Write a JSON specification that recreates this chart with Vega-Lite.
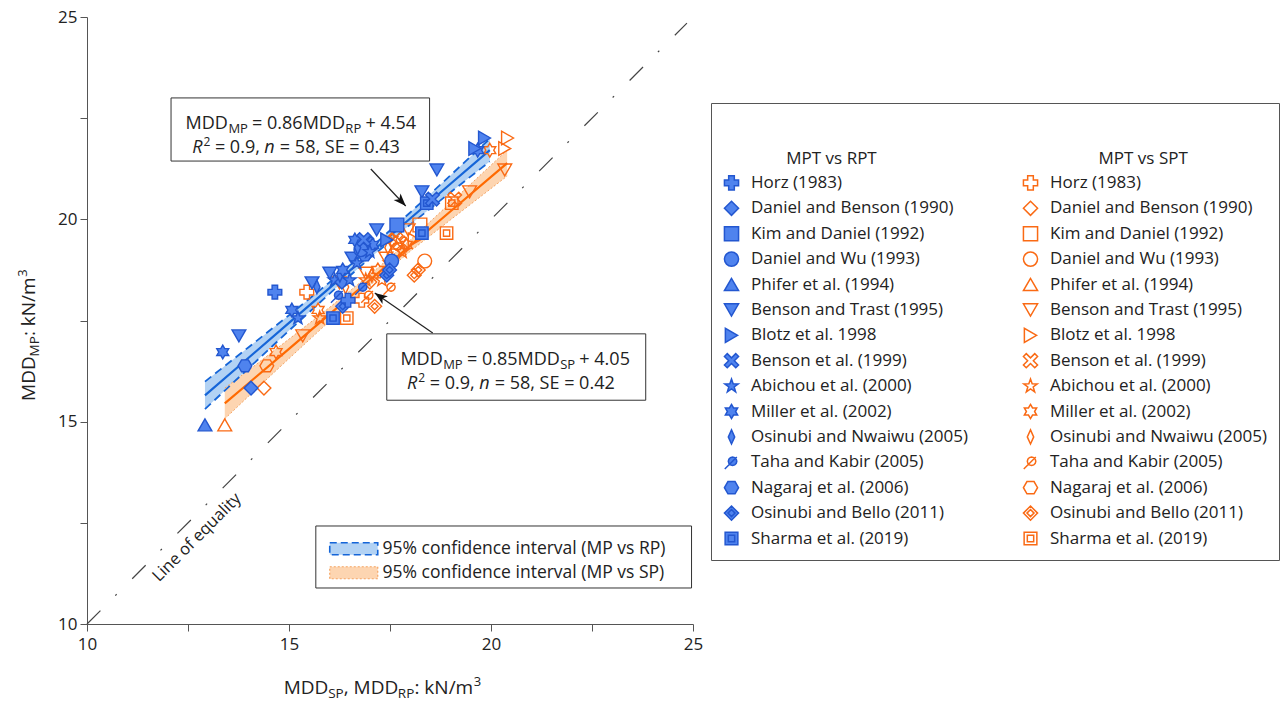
{
 "$schema": "https://vega.github.io/schema/vega-lite/v6.json",
 "width": 606,
 "height": 607,
 "autosize": {"type": "none"},
 "padding": {"left": 87, "top": 17, "right": 592, "bottom": 77},
 "background": "white",
 "config": {"view": {"stroke": null}, "font": "Open Sans"},
 "datasets": {
  "pts": [
   {"k":"SPT: Phifer et al. (1994)","x":13.41,"y":14.92},
   {"k":"SPT: Daniel and Benson (1990)","x":14.38,"y":15.83},
   {"k":"SPT: Nagaraj et al. (2006)","x":14.45,"y":16.38},
   {"k":"SPT: Miller et al. (2002)","x":14.68,"y":16.72},
   {"k":"SPT: Benson and Trast (1995)","x":15.34,"y":17.12},
   {"k":"SPT: Horz (1983)","x":15.44,"y":18.2},
   {"k":"SPT: Abichou et al. (2000)","x":15.76,"y":17.56},
   {"k":"SPT: Miller et al. (2002)","x":15.72,"y":17.76},
   {"k":"SPT: Benson and Trast (1995)","x":16.25,"y":18.43},
   {"k":"SPT: Osinubi and Nwaiwu (2005)","x":16.4,"y":18.33},
   {"k":"SPT: Osinubi and Bello (2011)","x":17.12,"y":17.85},
   {"k":"SPT: Sharma et al. (2019)","x":16.43,"y":17.56},
   {"k":"SPT: Horz (1983)","x":16.8,"y":18.0},
   {"k":"SPT: Taha and Kabir (2005)","x":17.5,"y":18.3},
   {"k":"SPT: Abichou et al. (2000)","x":16.9,"y":18.5},
   {"k":"SPT: Daniel and Benson (1990)","x":17.0,"y":18.45},
   {"k":"SPT: Abichou et al. (2000)","x":17.3,"y":18.5},
   {"k":"SPT: Benson and Trast (1995)","x":16.9,"y":18.67},
   {"k":"SPT: Osinubi and Nwaiwu (2005)","x":17.05,"y":18.62},
   {"k":"SPT: Miller et al. (2002)","x":17.2,"y":18.75},
   {"k":"SPT: Benson and Trast (1995)","x":17.4,"y":19.04},
   {"k":"SPT: Abichou et al. (2000)","x":17.5,"y":18.92},
   {"k":"SPT: Nagaraj et al. (2006)","x":17.6,"y":19.12},
   {"k":"SPT: Miller et al. (2002)","x":17.55,"y":19.49},
   {"k":"SPT: Benson et al. (1999)","x":17.75,"y":19.41},
   {"k":"SPT: Miller et al. (2002)","x":17.9,"y":19.37},
   {"k":"SPT: Benson and Trast (1995)","x":17.95,"y":19.74},
   {"k":"SPT: Blotz et al. 1998","x":18.1,"y":19.49},
   {"k":"SPT: Daniel and Wu (1993)","x":18.36,"y":18.97},
   {"k":"SPT: Osinubi and Bello (2011)","x":18.1,"y":18.62},
   {"k":"SPT: Osinubi and Bello (2011)","x":18.2,"y":18.75},
   {"k":"SPT: Kim and Daniel (1992)","x":18.24,"y":19.86},
   {"k":"SPT: Sharma et al. (2019)","x":18.9,"y":19.66},
   {"k":"SPT: Benson and Trast (1995)","x":19.47,"y":20.68},
   {"k":"SPT: Sharma et al. (2019)","x":19.03,"y":20.4},
   {"k":"SPT: Benson et al. (1999)","x":19.1,"y":20.5},
   {"k":"SPT: Benson and Trast (1995)","x":20.34,"y":21.22},
   {"k":"SPT: Miller et al. (2002)","x":19.97,"y":21.71},
   {"k":"SPT: Blotz et al. 1998","x":20.41,"y":22.01},
   {"k":"SPT: Blotz et al. 1998","x":20.34,"y":21.75},
   {"k":"SPT: Taha and Kabir (2005)","x":16.95,"y":18.1},
   {"k":"SPT: Daniel and Wu (1993)","x":17.7,"y":19.25},
   {"k":"SPT: Abichou et al. (2000)","x":17.8,"y":19.2},
   {"k":"SPT: Osinubi and Nwaiwu (2005)","x":17.45,"y":19.3},
   {"k":"SPT: Benson et al. (1999)","x":17.65,"y":19.5},
   {"k":"RPT: Phifer et al. (1994)","x":12.92,"y":14.92},
   {"k":"RPT: Daniel and Benson (1990)","x":14.06,"y":15.83},
   {"k":"RPT: Nagaraj et al. (2006)","x":13.91,"y":16.38},
   {"k":"RPT: Miller et al. (2002)","x":13.36,"y":16.72},
   {"k":"RPT: Benson and Trast (1995)","x":13.76,"y":17.12},
   {"k":"RPT: Horz (1983)","x":14.65,"y":18.2},
   {"k":"RPT: Abichou et al. (2000)","x":15.22,"y":17.56},
   {"k":"RPT: Miller et al. (2002)","x":15.07,"y":17.76},
   {"k":"RPT: Benson and Trast (1995)","x":15.57,"y":18.43},
   {"k":"RPT: Osinubi and Nwaiwu (2005)","x":15.69,"y":18.33},
   {"k":"RPT: Osinubi and Bello (2011)","x":16.33,"y":17.85},
   {"k":"RPT: Sharma et al. (2019)","x":16.09,"y":17.56},
   {"k":"RPT: Horz (1983)","x":16.46,"y":18.0},
   {"k":"RPT: Taha and Kabir (2005)","x":16.8,"y":18.3},
   {"k":"RPT: Abichou et al. (2000)","x":16.13,"y":18.5},
   {"k":"RPT: Daniel and Benson (1990)","x":16.31,"y":18.45},
   {"k":"RPT: Abichou et al. (2000)","x":16.5,"y":18.5},
   {"k":"RPT: Benson and Trast (1995)","x":16.01,"y":18.67},
   {"k":"RPT: Osinubi and Nwaiwu (2005)","x":16.26,"y":18.62},
   {"k":"RPT: Miller et al. (2002)","x":16.33,"y":18.75},
   {"k":"RPT: Benson and Trast (1995)","x":16.56,"y":19.04},
   {"k":"RPT: Abichou et al. (2000)","x":16.68,"y":18.92},
   {"k":"RPT: Nagaraj et al. (2006)","x":16.88,"y":19.12},
   {"k":"RPT: Miller et al. (2002)","x":16.63,"y":19.49},
   {"k":"RPT: Benson et al. (1999)","x":16.93,"y":19.41},
   {"k":"RPT: Miller et al. (2002)","x":17.07,"y":19.37},
   {"k":"RPT: Benson and Trast (1995)","x":17.17,"y":19.74},
   {"k":"RPT: Blotz et al. 1998","x":17.42,"y":19.49},
   {"k":"RPT: Daniel and Wu (1993)","x":17.54,"y":18.97},
   {"k":"RPT: Osinubi and Bello (2011)","x":17.42,"y":18.62},
   {"k":"RPT: Osinubi and Bello (2011)","x":17.49,"y":18.75},
   {"k":"RPT: Kim and Daniel (1992)","x":17.67,"y":19.86},
   {"k":"RPT: Sharma et al. (2019)","x":18.29,"y":19.66},
   {"k":"RPT: Benson and Trast (1995)","x":18.29,"y":20.68},
   {"k":"RPT: Sharma et al. (2019)","x":18.41,"y":20.4},
   {"k":"RPT: Benson et al. (1999)","x":18.55,"y":20.5},
   {"k":"RPT: Benson and Trast (1995)","x":18.66,"y":21.22},
   {"k":"RPT: Miller et al. (2002)","x":19.67,"y":21.71},
   {"k":"RPT: Blotz et al. 1998","x":19.84,"y":22.01},
   {"k":"RPT: Blotz et al. 1998","x":19.6,"y":21.75},
   {"k":"RPT: Taha and Kabir (2005)","x":16.2,"y":18.1},
   {"k":"RPT: Daniel and Wu (1993)","x":16.78,"y":19.25},
   {"k":"RPT: Abichou et al. (2000)","x":17.0,"y":19.2},
   {"k":"RPT: Osinubi and Nwaiwu (2005)","x":16.7,"y":19.3},
   {"k":"RPT: Benson et al. (1999)","x":16.85,"y":19.5}
  ],
  "band": [
   {"ci":"95% confidence interval (MP vs RP)","x":12.92,"f":15.65,"lo":15.31,"hi":15.99},
   {"ci":"95% confidence interval (MP vs RP)","x":14,"f":16.58,"lo":16.32,"hi":16.84},
   {"ci":"95% confidence interval (MP vs RP)","x":15,"f":17.44,"lo":17.25,"hi":17.63},
   {"ci":"95% confidence interval (MP vs RP)","x":16,"f":18.30,"lo":18.16,"hi":18.44},
   {"ci":"95% confidence interval (MP vs RP)","x":17,"f":19.16,"lo":19.04,"hi":19.28},
   {"ci":"95% confidence interval (MP vs RP)","x":18,"f":20.02,"lo":19.87,"hi":20.17},
   {"ci":"95% confidence interval (MP vs RP)","x":19,"f":20.88,"lo":20.67,"hi":21.09},
   {"ci":"95% confidence interval (MP vs RP)","x":19.97,"f":21.71,"lo":21.43,"hi":21.99},
   {"ci":"95% confidence interval (MP vs SP)","x":13.41,"f":15.45,"lo":15.07,"hi":15.83},
   {"ci":"95% confidence interval (MP vs SP)","x":14,"f":15.95,"lo":15.63,"hi":16.27},
   {"ci":"95% confidence interval (MP vs SP)","x":15,"f":16.80,"lo":16.56,"hi":17.04},
   {"ci":"95% confidence interval (MP vs SP)","x":16,"f":17.65,"lo":17.48,"hi":17.82},
   {"ci":"95% confidence interval (MP vs SP)","x":17,"f":18.50,"lo":18.37,"hi":18.63},
   {"ci":"95% confidence interval (MP vs SP)","x":18,"f":19.35,"lo":19.21,"hi":19.49},
   {"ci":"95% confidence interval (MP vs SP)","x":19,"f":20.20,"lo":19.99,"hi":20.41},
   {"ci":"95% confidence interval (MP vs SP)","x":20.4,"f":21.39,"lo":21.07,"hi":21.71}
  ],
  "eq": [{"x":10,"y":10},{"x":24.85,"y":24.85}],
  "boxes": [
   {"x":12.08,"x2":18.48,"y":21.44,"y2":23.0},
   {"x":17.42,"x2":23.83,"y":15.53,"y2":17.17},
   {"x":15.664,"x2":24.964,"y":10.89,"y2":12.422}
  ],
  "arrows": [
   {"id":1,"x":17.025,"y":21.243,"x2":17.89,"y2":20.329},
   {"id":2,"x":18.558,"y":17.19,"x2":17.123,"y2":18.179}
  ],
  "txt": [
   {"t":"MDD","x":12.441,"y":22.231,"k":"n18"},
   {"t":"MP","x":13.5,"y":22.132,"k":"s13"},
   {"t":"= 0.86MDD","x":14.086,"y":22.231,"k":"n18"},
   {"t":"RP","x":16.395,"y":22.132,"k":"s13"},
   {"t":"+ 4.54","x":16.893,"y":22.231,"k":"n18"},
   {"t":"R","x":12.604,"y":21.631,"k":"i18"},
   {"t":"2","x":12.882,"y":21.811,"k":"p12"},
   {"t":"= 0.9,","x":13.166,"y":21.631,"k":"n18"},
   {"t":"n","x":14.39,"y":21.631,"k":"i18"},
   {"t":"= 58, SE = 0.43","x":14.774,"y":21.631,"k":"n18"},
   {"t":"MDD","x":17.757,"y":16.4,"k":"n18"},
   {"t":"MP","x":18.815,"y":16.301,"k":"s13"},
   {"t":"= 0.85MDD","x":19.404,"y":16.4,"k":"n18"},
   {"t":"SP","x":21.713,"y":16.301,"k":"s13"},
   {"t":"+ 4.05","x":22.187,"y":16.4,"k":"n18"},
   {"t":"R","x":17.922,"y":15.8,"k":"i18"},
   {"t":"2","x":18.199,"y":15.98,"k":"p12"},
   {"t":"= 0.9,","x":18.484,"y":15.8,"k":"n18"},
   {"t":"n","x":19.708,"y":15.8,"k":"i18"},
   {"t":"= 58, SE = 0.42","x":20.092,"y":15.8,"k":"n18"},
   {"t":"MDD","x":14.87,"y":8.27,"k":"n19"},
   {"t":"SP","x":15.97,"y":8.171,"k":"s14"},
   {"t":", MDD","x":16.354,"y":8.27,"k":"n19"},
   {"t":"RP","x":17.694,"y":8.171,"k":"s14"},
   {"t":": kN/m","x":18.105,"y":8.27,"k":"n19"},
   {"t":"3","x":19.576,"y":8.468,"k":"p13"},
   {"t":"MDD","x":8.714,"y":15.513,"k":"yn19"},
   {"t":"MP","x":8.813,"y":16.612,"k":"ys14"},
   {"t":": kN/m","x":8.714,"y":17.114,"k":"yn19"},
   {"t":"3","x":8.516,"y":18.584,"k":"yp13"},
   {"t":"Line of equality","x":12.72,"y":12.14,"k":"eqlbl"}
  ]
 },
 "layer": [
  {
   "data": {"name": "eq"},
   "mark": {"type": "line", "color": "#444", "strokeWidth": 1.2, "strokeDash": [19, 21, 2, 22]},
   "encoding": {
    "x": {"field": "x", "type": "quantitative", "scale": {"domain": [10, 25], "nice": false, "zero": false},
     "axis": {"title": null, "values": [10, 12.5, 15, 17.5, 20, 22.5, 25], "labelExpr": "datum.value % 5 === 0 ? datum.label : ''", "grid": false, "tickSize": 7, "tickColor": "#555", "domainColor": "#555", "labelFontSize": 17, "labelColor": "#222", "labelFont": "Open Sans", "labelPadding": 5, "labelFlush": false, "labelOverlap": false}},
    "y": {"field": "y", "type": "quantitative", "scale": {"domain": [10, 25], "nice": false, "zero": false},
     "axis": {"title": null, "values": [10, 12.5, 15, 17.5, 20, 22.5, 25], "labelExpr": "datum.value % 5 === 0 ? datum.label : ''", "grid": false, "tickSize": 7, "tickColor": "#555", "domainColor": "#555", "labelFontSize": 17, "labelColor": "#222", "labelFont": "Open Sans", "labelPadding": 3, "labelFlush": false, "labelOverlap": false}}
   }
  },
  {
   "data": {"name": "band"},
   "mark": {"type": "area", "opacity": 1},
   "encoding": {
    "x": {"field": "x", "type": "quantitative", "axis": {"title": null}},
    "y": {"field": "lo", "type": "quantitative", "axis": {"title": null}},
    "y2": {"field": "hi"},
    "color": {"field": "ci", "type": "nominal",
     "scale": {"domain": ["95% confidence interval (MP vs RP)", "95% confidence interval (MP vs SP)"], "range": ["#b2d2f4", "#fdd5b1"]},
     "legend": {"orient": "none", "legendX": 240, "legendY": 523, "title": null, "padding": 0, "values": ["95% confidence interval (MP vs RP)"],
      "labelFont": "Open Sans", "labelFontSize": 17.5, "labelColor": "#222", "labelLimit": 400, "labelOffset": 38,
      "symbolType": "M-1,-1H7V1H-1Z", "symbolSize": 144, "symbolStrokeColor": "#1565d8", "symbolDash": [7, 4], "symbolStrokeWidth": 1.6}
    }
   }
  },
  {
   "data": {"name": "band"},
   "transform": [{"filter": "indexof(datum.ci, 'SP)') >= 0"}],
   "layer": [
    {"mark": {"type": "line", "color": "#f5a463", "strokeWidth": 1},
     "encoding": {"x": {"field": "x", "type": "quantitative", "axis": {"title": null}}, "y": {"field": "lo", "type": "quantitative", "axis": {"title": null}},
      "strokeDash": {"datum": "95% confidence interval (MP vs SP)", "type": "nominal", "scale": {"range": [[2, 2]]},
       "legend": {"orient": "none", "legendX": 240, "legendY": 547, "title": null, "padding": 0,
        "labelFont": "Open Sans", "labelFontSize": 17.5, "labelColor": "#222", "labelLimit": 400, "labelOffset": 38,
        "symbolType": "M-1,-1H7V1H-1Z", "symbolSize": 144, "symbolFillColor": "#fdd5b1", "symbolStrokeColor": "#f5a463", "symbolStrokeWidth": 1.2}}}},
    {"mark": {"type": "line", "color": "#f5a463", "strokeWidth": 1, "strokeDash": [2, 2]},
     "encoding": {"x": {"field": "x", "type": "quantitative", "axis": {"title": null}}, "y": {"field": "hi", "type": "quantitative", "axis": {"title": null}}}},
    {"mark": {"type": "line", "color": "#ff6a00", "strokeWidth": 2.2},
     "encoding": {"x": {"field": "x", "type": "quantitative", "axis": {"title": null}}, "y": {"field": "f", "type": "quantitative", "axis": {"title": null}}}}
   ]
  },
  {
   "data": {"name": "band"},
   "transform": [{"filter": "indexof(datum.ci, 'RP)') >= 0"}],
   "layer": [
    {"mark": {"type": "line", "color": "#1565d8", "strokeWidth": 1.8, "strokeDash": [8, 5]},
     "encoding": {"x": {"field": "x", "type": "quantitative", "axis": {"title": null}}, "y": {"field": "lo", "type": "quantitative", "axis": {"title": null}}}},
    {"mark": {"type": "line", "color": "#1565d8", "strokeWidth": 1.8, "strokeDash": [8, 5]},
     "encoding": {"x": {"field": "x", "type": "quantitative", "axis": {"title": null}}, "y": {"field": "hi", "type": "quantitative", "axis": {"title": null}}}},
    {"mark": {"type": "line", "color": "#1565d8", "strokeWidth": 2.2},
     "encoding": {"x": {"field": "x", "type": "quantitative", "axis": {"title": null}}, "y": {"field": "f", "type": "quantitative", "axis": {"title": null}}}}
   ]
  },
  {
   "data": {"name": "pts"},
   "mark": {"type": "point", "filled": true, "opacity": 1, "size": 190, "strokeWidth": 1.4},
   "encoding": {
    "x": {"field": "x", "type": "quantitative", "axis": {"title": null}},
    "y": {"field": "y", "type": "quantitative", "axis": {"title": null}},
    "fill": {"field": "k", "type": "nominal",
     "scale": {"domain": ["MPT vs RPT","RPT: Horz (1983)","RPT: Daniel and Benson (1990)","RPT: Kim and Daniel (1992)","RPT: Daniel and Wu (1993)","RPT: Phifer et al. (1994)","RPT: Benson and Trast (1995)","RPT: Blotz et al. 1998","RPT: Benson et al. (1999)","RPT: Abichou et al. (2000)","RPT: Miller et al. (2002)","RPT: Osinubi and Nwaiwu (2005)","RPT: Taha and Kabir (2005)","RPT: Nagaraj et al. (2006)","RPT: Osinubi and Bello (2011)","RPT: Sharma et al. (2019)","MPT vs SPT","SPT: Horz (1983)","SPT: Daniel and Benson (1990)","SPT: Kim and Daniel (1992)","SPT: Daniel and Wu (1993)","SPT: Phifer et al. (1994)","SPT: Benson and Trast (1995)","SPT: Blotz et al. 1998","SPT: Benson et al. (1999)","SPT: Abichou et al. (2000)","SPT: Miller et al. (2002)","SPT: Osinubi and Nwaiwu (2005)","SPT: Taha and Kabir (2005)","SPT: Nagaraj et al. (2006)","SPT: Osinubi and Bello (2011)","SPT: Sharma et al. (2019)"],
      "range": ["transparent","#4f83ee","#4f83ee","#4f83ee","#4f83ee","#4f83ee","#4f83ee","#4f83ee","#4f83ee","#4f83ee","#4f83ee","#4f83ee","#4f83ee","#4f83ee","#4f83ee","#4f83ee","transparent","transparent","transparent","transparent","transparent","transparent","transparent","transparent","transparent","transparent","transparent","transparent","transparent","transparent","transparent","transparent"]},
     "legend": {"orient": "none", "legendX": 624, "legendY": 86, "columns": 2, "title": "\u00a0", "titleFontSize": 16, "titlePadding": 18, "padding": 12, "strokeColor": "#555", "fillColor": "white", "labelFont": "Open Sans", "labelFontSize": 17, "labelColor": "#222", "labelLimit": 400, "symbolSize": 200, "symbolStrokeWidth": 1.5, "rowPadding": 4.4, "columnPadding": 52, "labelOffset": 11, "symbolLimit": 50, "gridAlign": "all",
      "labelExpr": "datum.value == 'MPT vs RPT' ? '\u200b\u00a0\u00a0\u00a0\u00a0\u00a0\u00a0\u00a0\u00a0MPT vs RPT' : datum.value == 'MPT vs SPT' ? '\u200b\u00a0\u00a0\u00a0\u00a0\u00a0\u00a0\u00a0\u00a0\u00a0\u00a0\u00a0MPT vs SPT' : slice(datum.value, 5)"}
    },
    "stroke": {"field": "k", "type": "nominal",
     "scale": {"domain": ["MPT vs RPT","RPT: Horz (1983)","RPT: Daniel and Benson (1990)","RPT: Kim and Daniel (1992)","RPT: Daniel and Wu (1993)","RPT: Phifer et al. (1994)","RPT: Benson and Trast (1995)","RPT: Blotz et al. 1998","RPT: Benson et al. (1999)","RPT: Abichou et al. (2000)","RPT: Miller et al. (2002)","RPT: Osinubi and Nwaiwu (2005)","RPT: Taha and Kabir (2005)","RPT: Nagaraj et al. (2006)","RPT: Osinubi and Bello (2011)","RPT: Sharma et al. (2019)","MPT vs SPT","SPT: Horz (1983)","SPT: Daniel and Benson (1990)","SPT: Kim and Daniel (1992)","SPT: Daniel and Wu (1993)","SPT: Phifer et al. (1994)","SPT: Benson and Trast (1995)","SPT: Blotz et al. 1998","SPT: Benson et al. (1999)","SPT: Abichou et al. (2000)","SPT: Miller et al. (2002)","SPT: Osinubi and Nwaiwu (2005)","SPT: Taha and Kabir (2005)","SPT: Nagaraj et al. (2006)","SPT: Osinubi and Bello (2011)","SPT: Sharma et al. (2019)"],
      "range": ["transparent","#2357d0","#2357d0","#2357d0","#2357d0","#2357d0","#2357d0","#2357d0","#2357d0","#2357d0","#2357d0","#2357d0","#2357d0","#2357d0","#2357d0","#2357d0","transparent","#fa6a14","#fa6a14","#fa6a14","#fa6a14","#fa6a14","#fa6a14","#fa6a14","#fa6a14","#fa6a14","#fa6a14","#fa6a14","#fa6a14","#fa6a14","#fa6a14","#fa6a14"]},
     "legend": {"orient": "none", "legendX": 624, "legendY": 86, "columns": 2, "title": "\u00a0", "titleFontSize": 16, "titlePadding": 18, "padding": 12, "strokeColor": "#555", "fillColor": "white", "labelFont": "Open Sans", "labelFontSize": 17, "labelColor": "#222", "labelLimit": 400, "symbolSize": 200, "symbolStrokeWidth": 1.5, "rowPadding": 4.4, "columnPadding": 52, "labelOffset": 11, "symbolLimit": 50, "gridAlign": "all",
      "labelExpr": "datum.value == 'MPT vs RPT' ? '\u200b\u00a0\u00a0\u00a0\u00a0\u00a0\u00a0\u00a0\u00a0MPT vs RPT' : datum.value == 'MPT vs SPT' ? '\u200b\u00a0\u00a0\u00a0\u00a0\u00a0\u00a0\u00a0\u00a0\u00a0\u00a0\u00a0MPT vs SPT' : slice(datum.value, 5)"}
    },
    "shape": {"field": "k", "type": "nominal",
     "scale": {"domain": ["MPT vs RPT","RPT: Horz (1983)","RPT: Daniel and Benson (1990)","RPT: Kim and Daniel (1992)","RPT: Daniel and Wu (1993)","RPT: Phifer et al. (1994)","RPT: Benson and Trast (1995)","RPT: Blotz et al. 1998","RPT: Benson et al. (1999)","RPT: Abichou et al. (2000)","RPT: Miller et al. (2002)","RPT: Osinubi and Nwaiwu (2005)","RPT: Taha and Kabir (2005)","RPT: Nagaraj et al. (2006)","RPT: Osinubi and Bello (2011)","RPT: Sharma et al. (2019)","MPT vs SPT","SPT: Horz (1983)","SPT: Daniel and Benson (1990)","SPT: Kim and Daniel (1992)","SPT: Daniel and Wu (1993)","SPT: Phifer et al. (1994)","SPT: Benson and Trast (1995)","SPT: Blotz et al. 1998","SPT: Benson et al. (1999)","SPT: Abichou et al. (2000)","SPT: Miller et al. (2002)","SPT: Osinubi and Nwaiwu (2005)","SPT: Taha and Kabir (2005)","SPT: Nagaraj et al. (2006)","SPT: Osinubi and Bello (2011)","SPT: Sharma et al. (2019)"],
      "range": ["M0,0","cross","diamond","square","circle","triangle-up","triangle-down","triangle-right",
       "M-1,-0.6L-0.6,-1L0,-0.4L0.6,-1L1,-0.6L0.4,0L1,0.6L0.6,1L0,0.4L-0.6,1L-1,0.6L-0.4,0Z",
       "M0,-1L0.235,-0.324L0.951,-0.309L0.38,0.124L0.588,0.809L0,0.4L-0.588,0.809L-0.38,0.124L-0.951,-0.309L-0.235,-0.324Z",
       "M0,-1L0.289,-0.5L0.866,-0.5L0.577,0L0.866,0.5L0.289,0.5L0,1L-0.289,0.5L-0.866,0.5L-0.577,0L-0.866,-0.5L-0.289,-0.5Z",
       "M0,-1L0.45,0L0,1L-0.45,0Z",
       "M0.75,-0.15L0.67,0.15L0.45,0.37L0.15,0.45L-0.15,0.37L-0.37,0.15L-0.45,-0.15L-0.37,-0.45L-0.15,-0.67L0.15,-0.75L0.45,-0.67L0.67,-0.45Z M-0.95,0.95L0.75,-0.75",
       "M-1,0L-0.5,-0.866L0.5,-0.866L1,0L0.5,0.866L-0.5,0.866Z",
       "M0,-1L1,0L0,1L-1,0Z M0,-0.5L0.5,0L0,0.5L-0.5,0Z",
       "M-0.9,-0.9H0.9V0.9H-0.9Z M-0.45,-0.45H0.45V0.45H-0.45Z",
       "M0,0","cross","diamond","square","circle","triangle-up","triangle-down","triangle-right",
       "M-1,-0.6L-0.6,-1L0,-0.4L0.6,-1L1,-0.6L0.4,0L1,0.6L0.6,1L0,0.4L-0.6,1L-1,0.6L-0.4,0Z",
       "M0,-1L0.235,-0.324L0.951,-0.309L0.38,0.124L0.588,0.809L0,0.4L-0.588,0.809L-0.38,0.124L-0.951,-0.309L-0.235,-0.324Z",
       "M0,-1L0.289,-0.5L0.866,-0.5L0.577,0L0.866,0.5L0.289,0.5L0,1L-0.289,0.5L-0.866,0.5L-0.577,0L-0.866,-0.5L-0.289,-0.5Z",
       "M0,-1L0.45,0L0,1L-0.45,0Z",
       "M0.75,-0.15L0.67,0.15L0.45,0.37L0.15,0.45L-0.15,0.37L-0.37,0.15L-0.45,-0.15L-0.37,-0.45L-0.15,-0.67L0.15,-0.75L0.45,-0.67L0.67,-0.45Z M-0.95,0.95L0.75,-0.75",
       "M-1,0L-0.5,-0.866L0.5,-0.866L1,0L0.5,0.866L-0.5,0.866Z",
       "M0,-1L1,0L0,1L-1,0Z M0,-0.5L0.5,0L0,0.5L-0.5,0Z",
       "M-0.9,-0.9H0.9V0.9H-0.9Z M-0.45,-0.45H0.45V0.45H-0.45Z"]},
     "legend": {"orient": "none", "legendX": 624, "legendY": 86, "columns": 2, "title": "\u00a0", "titleFontSize": 16, "titlePadding": 18, "padding": 12, "strokeColor": "#555", "fillColor": "white", "labelFont": "Open Sans", "labelFontSize": 17, "labelColor": "#222", "labelLimit": 400, "symbolSize": 200, "symbolStrokeWidth": 1.5, "rowPadding": 4.4, "columnPadding": 52, "labelOffset": 11, "symbolLimit": 50, "gridAlign": "all",
      "labelExpr": "datum.value == 'MPT vs RPT' ? '\u200b\u00a0\u00a0\u00a0\u00a0\u00a0\u00a0\u00a0\u00a0MPT vs RPT' : datum.value == 'MPT vs SPT' ? '\u200b\u00a0\u00a0\u00a0\u00a0\u00a0\u00a0\u00a0\u00a0\u00a0\u00a0\u00a0MPT vs SPT' : slice(datum.value, 5)"}
    }
   }
  },
  {
   "data": {"name": "boxes"},
   "mark": {"type": "rect", "fill": "white", "stroke": "#333", "strokeWidth": 1},
   "encoding": {
    "x": {"field": "x", "type": "quantitative", "axis": {"title": null}},
    "x2": {"field": "x2"},
    "y": {"field": "y", "type": "quantitative", "axis": {"title": null}},
    "y2": {"field": "y2"}
   }
  },
  {
   "data": {"name": "arrows"},
   "mark": {"type": "rule", "color": "#222", "strokeWidth": 1.2},
   "encoding": {
    "x": {"field": "x", "type": "quantitative", "axis": {"title": null}},
    "x2": {"field": "x2"},
    "y": {"field": "y", "type": "quantitative", "axis": {"title": null}},
    "y2": {"field": "y2"}
   }
  },
  {
   "data": {"name": "arrows"},
   "transform": [{"filter": "datum.id == 1"}],
   "mark": {"type": "point", "shape": "M0,0L-2,-0.75L-1.5,0L-2,0.75Z", "filled": true, "color": "#111", "opacity": 1, "size": 160, "angle": 46.6},
   "encoding": {"x": {"field": "x2", "type": "quantitative", "axis": {"title": null}}, "y": {"field": "y2", "type": "quantitative", "axis": {"title": null}}}
  },
  {
   "data": {"name": "arrows"},
   "transform": [{"filter": "datum.id == 2"}],
   "mark": {"type": "point", "shape": "M0,0L-2,-0.75L-1.5,0L-2,0.75Z", "filled": true, "color": "#111", "opacity": 1, "size": 160, "angle": 214.6},
   "encoding": {"x": {"field": "x2", "type": "quantitative", "axis": {"title": null}}, "y": {"field": "y2", "type": "quantitative", "axis": {"title": null}}}
  },
  {
   "data": {"name": "txt"},
   "encoding": {
    "x": {"field": "x", "type": "quantitative", "axis": {"title": null}},
    "y": {"field": "y", "type": "quantitative", "axis": {"title": null}},
    "text": {"field": "t"}
   },
   "layer": [
    {"transform": [{"filter": "datum.k == 'n18'"}], "mark": {"type": "text", "align": "left", "baseline": "alphabetic", "fontSize": 18, "font": "Open Sans", "color": "#222"}},
    {"transform": [{"filter": "datum.k == 'i18'"}], "mark": {"type": "text", "align": "left", "baseline": "alphabetic", "fontSize": 18, "fontStyle": "italic", "font": "Open Sans", "color": "#222"}},
    {"transform": [{"filter": "datum.k == 's13'"}], "mark": {"type": "text", "align": "left", "baseline": "alphabetic", "fontSize": 13, "font": "Open Sans", "color": "#222"}},
    {"transform": [{"filter": "datum.k == 'p12'"}], "mark": {"type": "text", "align": "left", "baseline": "alphabetic", "fontSize": 12, "font": "Open Sans", "color": "#222"}},
    {"transform": [{"filter": "datum.k == 'n19'"}], "mark": {"type": "text", "align": "left", "baseline": "alphabetic", "fontSize": 19, "font": "Open Sans", "color": "#222"}},
    {"transform": [{"filter": "datum.k == 's14'"}], "mark": {"type": "text", "align": "left", "baseline": "alphabetic", "fontSize": 13.5, "font": "Open Sans", "color": "#222"}},
    {"transform": [{"filter": "datum.k == 'p13'"}], "mark": {"type": "text", "align": "left", "baseline": "alphabetic", "fontSize": 13, "font": "Open Sans", "color": "#222"}},
    {"transform": [{"filter": "datum.k == 'yn19'"}], "mark": {"type": "text", "align": "left", "baseline": "alphabetic", "fontSize": 19, "font": "Open Sans", "color": "#222", "angle": 270}},
    {"transform": [{"filter": "datum.k == 'ys14'"}], "mark": {"type": "text", "align": "left", "baseline": "alphabetic", "fontSize": 13.5, "font": "Open Sans", "color": "#222", "angle": 270}},
    {"transform": [{"filter": "datum.k == 'yp13'"}], "mark": {"type": "text", "align": "left", "baseline": "alphabetic", "fontSize": 13, "font": "Open Sans", "color": "#222", "angle": 270}},
    {"transform": [{"filter": "datum.k == 'eqlbl'"}], "mark": {"type": "text", "align": "center", "baseline": "middle", "fontSize": 16.5, "font": "Open Sans", "color": "#222", "angle": 315}}
   ]
  }
 ]
}
